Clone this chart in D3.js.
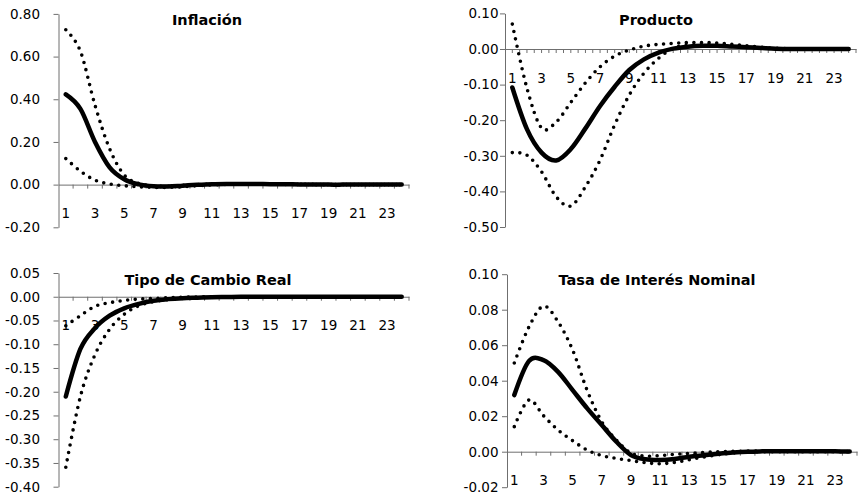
<!DOCTYPE html>
<html><head><meta charset="utf-8">
<script src="https://cdn.jsdelivr.net/npm/d3@7"></script>
<style>body{margin:0;background:#fff}svg{display:block}</style>
</head><body>
<svg id="chart" width="860" height="495"></svg>
<script>
// ---------- data ----------
const categories = ["1","2","3","4","5","6","7","8","9","10","11","12","13","14","15","16","17","18","19","20","21","22","23","24"];
const xTickLabels = ["1","3","5","7","9","11","13","15","17","19","21","23"];

const inflacionMed = [0.423,0.355,0.200,0.081,0.025,0.001,-0.008,-0.009,-0.005,-0.001,0.002,0.003,0.003,0.003,0.002,0.002,0.001,0.001,0,0,0,0,0,0];
const inflacionUp  = [0.726,0.625,0.372,0.168,0.045,0.005,-0.006,-0.008,-0.004,0.000,0.003,0.004,0.004,0.004,0.003,0.002,0.001,0.001,0,0,0,0,0,0];
const inflacionLo  = [0.122,0.063,0.021,0.003,-0.005,-0.010,-0.013,-0.013,-0.010,-0.005,-0.001,0.001,0.002,0.002,0.002,0.001,0.001,0,0,0,0,0,0,0];
const inflacionTicks = [-0.20,0.00,0.20,0.40,0.60,0.80];

const productoMed = [-0.108,-0.225,-0.291,-0.313,-0.281,-0.223,-0.160,-0.106,-0.059,-0.029,-0.010,0.001,0.0065,0.009,0.009,0.007,0.005,0.003,0.001,0,0,0,0,0];
const productoUp  = [0.070,-0.110,-0.222,-0.205,-0.150,-0.095,-0.050,-0.020,-0.003,0.008,0.013,0.016,0.018,0.018,0.017,0.013,0.009,0.005,0.002,0.001,0,0,0,0];
const productoLo  = [-0.291,-0.298,-0.345,-0.415,-0.441,-0.387,-0.312,-0.213,-0.129,-0.068,-0.026,0.002,0.010,0.012,0.010,0.007,0.004,0.002,0.001,0,0,0,0,0];
const productoTicks = [-0.50,-0.40,-0.30,-0.20,-0.10,0.00,0.10];

const cambioMed = [-0.210,-0.110,-0.066,-0.040,-0.0245,-0.015,-0.0084,-0.005,-0.003,-0.002,-0.001,-0.0005,0,0,0,0,0,0,0,0,0,0,0,0];
const cambioUp  = [-0.061,-0.040,-0.020,-0.0126,-0.0077,-0.005,-0.0035,-0.002,-0.001,-0.0005,0,0,0,0,0,0,0,0,0,0,0,0,0,0];
const cambioLo  = [-0.359,-0.210,-0.122,-0.0685,-0.037,-0.019,-0.0105,-0.006,-0.0035,-0.002,-0.001,0,0,0,0,0,0,0,0,0,0,0,0,0];
const cambioTicks = [-0.40,-0.35,-0.30,-0.25,-0.20,-0.15,-0.10,-0.05,0.00,0.05];

const tasaMed = [0.0319,0.0510,0.0516,0.0450,0.0347,0.0244,0.0150,0.0056,-0.0019,-0.0043,-0.0047,-0.0041,-0.0028,-0.0020,-0.0012,-0.0005,0,0.0002,0.0003,0.0003,0.0003,0.0002,0.0002,0.0001];
const tasaUp  = [0.0500,0.0702,0.0820,0.0732,0.0573,0.0345,0.0169,0.0065,-0.0008,-0.0025,-0.0022,-0.0015,-0.0010,-0.0005,0,0.0002,0.0003,0.0003,0.0003,0.0002,0.0002,0.0001,0.0001,0];
const tasaLo  = [0.0141,0.0291,0.0203,0.0122,0.0062,0.0009,-0.0022,-0.0038,-0.0050,-0.0062,-0.0068,-0.0060,-0.0045,-0.0030,-0.0017,-0.0007,-0.0002,0,0,0,0,0,0,0];
const tasaTicks = [-0.02,0.00,0.02,0.04,0.06,0.08,0.10];

// ---------- layout ----------
const panels = [
  {title:"Inflación", med:inflacionMed, up:inflacionUp, lo:inflacionLo, ticks:inflacionTicks,
   x0:58.5, x1:409, yTop:13.9, yBot:227.3, labelRight:40, tx:207, ty:25, halfTicks:false},
  {title:"Producto", med:productoMed, up:productoUp, lo:productoLo, ticks:productoTicks,
   x0:505, x1:856, yTop:13.4, yBot:227, labelRight:498.5, tx:656, ty:24.5, halfTicks:true},
  {title:"Tipo de Cambio Real", med:cambioMed, up:cambioUp, lo:cambioLo, ticks:cambioTicks,
   x0:58.5, x1:409, yTop:273, yBot:486.7, labelRight:40, tx:208, ty:285, halfTicks:false},
  {title:"Tasa de Interés Nominal", med:tasaMed, up:tasaUp, lo:tasaLo, ticks:tasaTicks,
   x0:507, x1:857, yTop:274.2, yBot:487.2, labelRight:498.5, tx:657, ty:285, halfTicks:false}
];

const svg = d3.select("#chart");
const axisColor = "#6f6f6f";
const fmt = d => d.toFixed(2);

panels.forEach(p => {
  const g = svg.append("g");
  const x = d3.scaleBand().domain(categories).range([p.x0, p.x1]).padding(0);
  const y = d3.scaleLinear().domain([d3.min(p.ticks), d3.max(p.ticks)]).range([p.yBot, p.yTop]);
  const bw = x.bandwidth();

  // y axis
  const ya = g.append("g").attr("transform", `translate(${p.x0},0)`)
    .call(d3.axisLeft(y).tickValues(p.ticks).tickFormat(fmt).tickSize(5).tickSizeOuter(0)
      .tickPadding(p.x0 - 5 - p.labelRight));
  ya.selectAll("path,line").attr("stroke", axisColor);
  ya.selectAll("text").attr("font-family","DejaVu Sans").attr("font-size",13.5).attr("fill","#000");

  // x axis (crosses at 0)
  const y0 = y(0);
  const xa = g.append("g").attr("transform", `translate(0,${y0})`)
    .call(d3.axisBottom(x).tickValues(xTickLabels).tickSize(0).tickSizeOuter(0).tickPadding(24));
  xa.select("path").attr("stroke", axisColor);
  xa.selectAll("text").attr("font-family","DejaVu Sans").attr("font-size",13.5).attr("fill","#000");

  // category boundary tick marks
  let tickPos = categories.slice(1).map(c => x(c)).concat([p.x1]);
  if (p.halfTicks) tickPos = tickPos.concat(categories.map(c => x(c) + bw/2));
  g.append("g").selectAll("line").data(tickPos).join("line")
    .attr("x1", d => d).attr("x2", d => d)
    .attr("y1", y0).attr("y2", y0 + 4)
    .attr("stroke", axisColor).attr("stroke-width", 1);

  const line = d3.line()
    .x((d,i) => x(categories[i]) + bw/2)
    .y(d => y(d))
    .curve(d3.curveCardinal.tension(0));

  g.append("path").datum(p.med).attr("d", line)
    .attr("fill","none").attr("stroke","#000").attr("stroke-width",4.5)
    .attr("stroke-linejoin","round").attr("stroke-linecap","round");
  [p.up, p.lo].forEach(s => {
    g.append("path").datum(s).attr("d", line)
      .attr("fill","none").attr("stroke","#000").attr("stroke-width",3.6)
      .attr("stroke-dasharray","0 7.6").attr("stroke-linecap","round");
  });

  g.append("text").attr("x", p.tx).attr("y", p.ty).attr("text-anchor","middle")
    .attr("font-family","DejaVu Sans").attr("font-weight","bold").attr("font-size",14.5)
    .attr("fill","#000").text(p.title);
});
</script>
</body></html>
